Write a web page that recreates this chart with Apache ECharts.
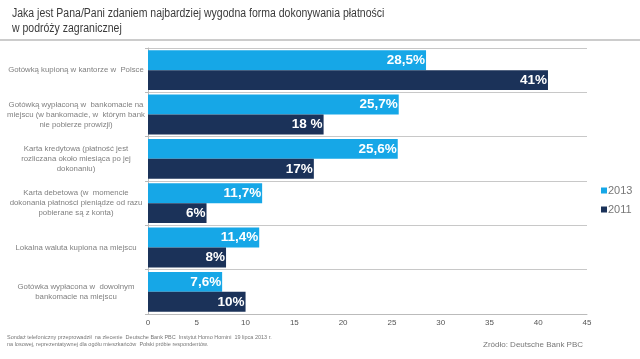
<!DOCTYPE html>
<html><head><meta charset="utf-8">
<script src="https://cdn.jsdelivr.net/npm/echarts@6/dist/echarts.min.js"></script>
<style>html,body{margin:0;padding:0;background:#fff}#c{width:640px;height:359px}</style>
</head><body><div id="c"></div>
<script>
const categories = [
  "Gotówką kupioną w kantorze w  Polsce",
  "Gotówką wypłaconą w  bankomacie na\nmiejscu (w bankomacie, w  którym bank\nnie pobierze prowizji)",
  "Karta kredytowa (płatność jest\nrozliczana około miesiąca po jej\ndokonaniu)",
  "Karta debetowa (w  momencie\ndokonania płatności pieniądze od razu\npobierane są z konta)",
  "Lokalna waluta kupiona na miejscu",
  "Gotówka wypłacona w  dowolnym\nbankomacie na miejscu"
];
const values2013 = [28.5, 25.7, 25.6, 11.7, 11.4, 7.6];
const values2011 = [41, 18, 17, 6, 8, 10];
const labels2013 = ["28,5%", "25,7%", "25,6%", "11,7%", "11,4%", "7,6%"];
const labels2011 = ["41%", "18 %", "17%", "6%", "8%", "10%"];
const xTicks = [0, 5, 10, 15, 20, 25, 30, 35, 40, 45];

const chart = echarts.init(document.getElementById('c'));
const labelStyle = {show: true, position: 'insideRight', color: '#fff', fontWeight: 'bold', fontSize: 13.5, fontFamily: 'Liberation Sans', distance: 1};
chart.setOption({
  animation: false,
  legend: {
    orient: 'vertical', left: 596, top: 180, itemWidth: 6, itemHeight: 6, itemGap: 8,
    icon: 'rect',
    textStyle: {fontSize: 11, color: '#777', fontFamily: 'Liberation Sans', padding: [0,0,0,-4]},
    data: ['2013', '2011']
  },
  grid: {left: 148, right: 53, top: 48, bottom: 45, containLabel: false},
  xAxis: {
    type: 'value', min: 0, max: 45, interval: 5,
    axisLine: {show: true, lineStyle: {color: '#bbb'}},
    axisTick: {show: false},
    splitLine: {show: false},
    axisLabel: {fontSize: 8, color: '#555', fontFamily: 'Liberation Sans', margin: 5,
      formatter: v => xTicks.includes(v) ? String(v) : ''}
  },
  yAxis: {
    type: 'category', inverse: true, data: categories,
    axisLine: {show: true, lineStyle: {color: '#bbb'}},
    axisTick: {show: true, length: 3, lineStyle: {color: '#bbb'}},
    splitLine: {show: true, lineStyle: {color: '#c8c8c8', width: 1}},
    axisLabel: {fontSize: 7.8, color: '#808080', fontFamily: 'Liberation Sans', align: 'center', margin: 72, lineHeight: 10}
  },
  graphic: [
    {type: 'text', x: 12, y: 6, scaleX: 0.84, style: {text: "Jaka jest Pana/Pani zdaniem najbardziej wygodna forma dokonywania płatności\nw podróży zagranicznej", fontSize: 12.5, fill: '#3a3a3a', fontFamily: 'Liberation Sans', lineHeight: 15}},
    {type: 'line', shape: {x1: 0, y1: 40, x2: 640, y2: 40}, style: {stroke: '#999', lineWidth: 1}},
    {type: 'text', left: 7, top: 334, style: {text: "Sondaż telefoniczny przeprowadził  na zlecenie  Deutsche Bank PBC  Instytut Homo Homini  19 lipca 2013 r.\nna losowej, reprezentatywnej dla ogółu mieszkańców  Polski próbie respondentów.", fontSize: 5.5, fill: '#777', fontFamily: 'Liberation Sans', lineHeight: 7}},
    {type: 'text', left: 483, top: 341, style: {text: "Zródło: Deutsche Bank PBC", fontSize: 8, fill: '#777', fontFamily: 'Liberation Sans'}}
  ],
  series: [
    {name: '2013', type: 'bar', data: values2013, itemStyle: {color: '#16a7e7'}, barGap: '0%', barCategoryGap: '10%',
      label: Object.assign({}, labelStyle, {formatter: p => labels2013[p.dataIndex]})},
    {name: '2011', type: 'bar', data: values2011, itemStyle: {color: '#1b3259'},
      label: Object.assign({}, labelStyle, {formatter: p => labels2011[p.dataIndex]})}
  ]
});
</script></body></html>
